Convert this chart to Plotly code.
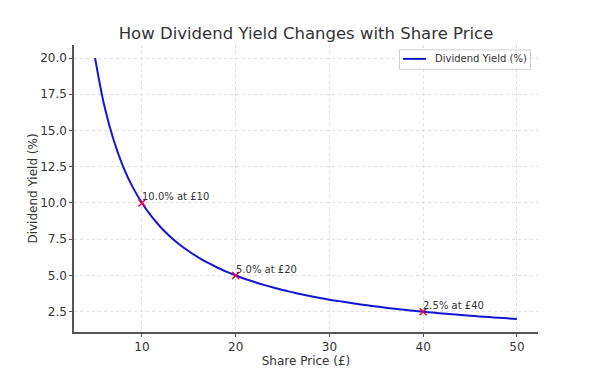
import plotly.graph_objects as go

# Data
share_price = [5, 6, 7, 8, 9, 10, 11, 12, 13, 14, 15, 16, 17, 18, 19, 20, 21, 22, 23, 24, 25,
               26, 27, 28, 29, 30, 31, 32, 33, 34, 35, 36, 37, 38, 39, 40, 41, 42, 43, 44, 45,
               46, 47, 48, 49, 50]
dividend_yield = [20.0, 16.67, 14.29, 12.5, 11.11, 10.0, 9.09, 8.33, 7.69, 7.14, 6.67, 6.25,
                  5.88, 5.56, 5.26, 5.0, 4.76, 4.55, 4.35, 4.17, 4.0, 3.85, 3.70, 3.57, 3.45,
                  3.33, 3.23, 3.13, 3.03, 2.94, 2.86, 2.78, 2.70, 2.63, 2.56, 2.5, 2.44, 2.38,
                  2.33, 2.27, 2.22, 2.17, 2.13, 2.08, 2.04, 2.0]
marked_price = [10, 20, 40]
marked_yield = [10.0, 5.0, 2.5]
marked_labels = ["10.0% at £10", "5.0% at £20", "2.5% at £40"]
x_ticks = [10, 20, 30, 40, 50]
y_ticks = [2.5, 5.0, 7.5, 10.0, 12.5, 15.0, 17.5, 20.0]
series_name = "Dividend Yield (%)"

FONT = "DejaVu Sans"
TXT = "#333333"
LINE_COLOR = "#1414d2"

# page has an 8px body margin: figure coordinates = page coordinates - 8
OFF = 8
FIG_W, FIG_H = 597 - OFF, 373 - OFF
L, T, W, H = 74, 44.6, 464, 287.4  # plot area in page pixels

fig = go.Figure()
fig.add_trace(go.Scatter(
    x=share_price, y=dividend_yield, mode="lines", line_shape="spline",
    name=series_name, line=dict(color=LINE_COLOR, width=2), showlegend=False,
))
fig.add_trace(go.Scatter(
    x=marked_price, y=marked_yield, mode="markers", showlegend=False,
    marker=dict(symbol="x-thin", size=7, line=dict(color="#e0004a", width=1.5)),
))
for px, py, lab in zip(marked_price, marked_yield, marked_labels):
    fig.add_annotation(x=px, y=py, text=lab, showarrow=False, xanchor="left",
                       yanchor="middle", xshift=-2, yshift=6,
                       font=dict(family=FONT, size=10, color=TXT))

axis_common = dict(
    showgrid=True, gridcolor="#e0e0e0", griddash="dot", gridwidth=1,
    showline=True, linecolor="#555555", linewidth=1.5,
    ticks="outside", ticklen=3, tickcolor="#555555", tickwidth=1,
    tickfont=dict(family=FONT, size=12, color=TXT), zeroline=False, automargin=False,
)
fig.update_xaxes(range=[2.75, 52.25], tickvals=x_ticks,
                 title=dict(text="Share Price (£)", font=dict(family=FONT, size=12, color=TXT), standoff=0),
                 **axis_common)
fig.update_yaxes(range=[1.1, 20.9], tickvals=y_ticks, tickformat=".1f",
                 title=dict(text="Dividend Yield (%)", font=dict(family=FONT, size=12, color=TXT), standoff=0),
                 **axis_common)

def pxx(p):
    return (p - L) / W
def pxy(p):
    return (T + H - p) / H

# Legend box (matplotlib-style)
fig.add_shape(type="rect", xref="paper", yref="paper",
              x0=pxx(399.5), x1=pxx(530.5), y0=pxy(69), y1=pxy(49.5),
              line=dict(color="#d0d0d0", width=1), fillcolor="rgba(255,255,255,0.85)")
fig.add_shape(type="line", xref="paper", yref="paper",
              x0=pxx(403), x1=pxx(426), y0=pxy(58.5), y1=pxy(58.5),
              line=dict(color=LINE_COLOR, width=2))
fig.add_annotation(xref="paper", yref="paper", x=pxx(432.5), y=pxy(58.5), text=series_name,
                   showarrow=False, xanchor="left", yanchor="middle",
                   font=dict(family=FONT, size=10, color=TXT))

fig.update_layout(
    width=FIG_W, height=FIG_H,
    margin=dict(l=L - OFF, r=FIG_W - (L - OFF) - W, t=T - OFF, b=FIG_H - (T - OFF) - H,
                autoexpand=False),
    paper_bgcolor="white", plot_bgcolor="white",
    title=dict(text="How Dividend Yield Changes with Share Price", x=0.5, xanchor="center",
               xref="paper", y=1 - (33 - OFF) / FIG_H, yanchor="middle",
               font=dict(family=FONT, size=16.5, color=TXT)),
    showlegend=False,
    font=dict(family=FONT, color=TXT),
)

fig.write_html("out.html")
